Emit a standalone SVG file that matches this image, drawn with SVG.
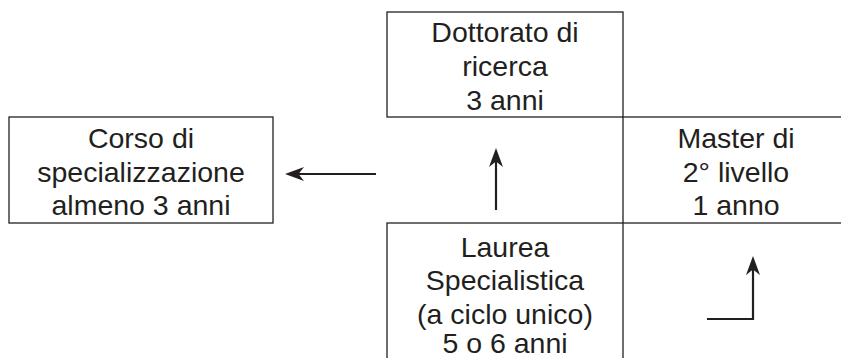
<svg xmlns="http://www.w3.org/2000/svg" width="841" height="358" viewBox="0 0 841 358">
<style>
.box{fill:#fff;stroke:#231f20;stroke-width:1.3}
.t{font-family:"Liberation Sans",Arial,sans-serif;font-size:28.5px;fill:#231f20;text-anchor:middle}
.c{fill:none;stroke:#231f20;stroke-width:2.2}
</style>
<defs>
<marker id="ah" markerUnits="userSpaceOnUse" viewBox="-12 -9 26 18" markerWidth="26" markerHeight="18" refX="0" refY="0" orient="auto">
<path d="M10,0 L-9,-7 L-3.5,0 L-9,7 Z" fill="#231f20"/>
</marker>
</defs>
<rect width="841" height="358" fill="#fff"/>
<g id="dottorato">
<rect class="box" x="387" y="12" width="236" height="105"/>
<text class="t" x="505" y="41.5">Dottorato di</text>
<text class="t" x="505" y="75.5">ricerca</text>
<text class="t" x="505" y="109.5">3 anni</text>
</g>
<g id="corso">
<rect class="box" x="9" y="117" width="264" height="106"/>
<text class="t" x="141" y="147.5">Corso di</text>
<text class="t" x="141" y="181.5">specializzazione</text>
<text class="t" x="141" y="215">almeno 3 anni</text>
</g>
<g id="master">
<rect class="box" x="623" y="117" width="240" height="106"/>
<text class="t" x="736" y="147.5">Master di</text>
<text class="t" x="736" y="181.5">2° livello</text>
<text class="t" x="736" y="215">1 anno</text>
</g>
<g id="laurea">
<rect class="box" x="387" y="223" width="236" height="150"/>
<text class="t" x="505" y="256.5">Laurea</text>
<text class="t" x="505" y="290">Specialistica</text>
<text class="t" x="505" y="323.5">(a ciclo unico)</text>
<text class="t" x="505" y="353">5 o 6 anni</text>
</g>
<g id="connectors">
<path class="c" d="M376,174 L295,174" marker-end="url(#ah)"/>
<path class="c" d="M496,210 L496,158" marker-end="url(#ah)"/>
<path class="c" d="M707,319 L753,319 L753,266" marker-end="url(#ah)"/>
</g>
</svg>
